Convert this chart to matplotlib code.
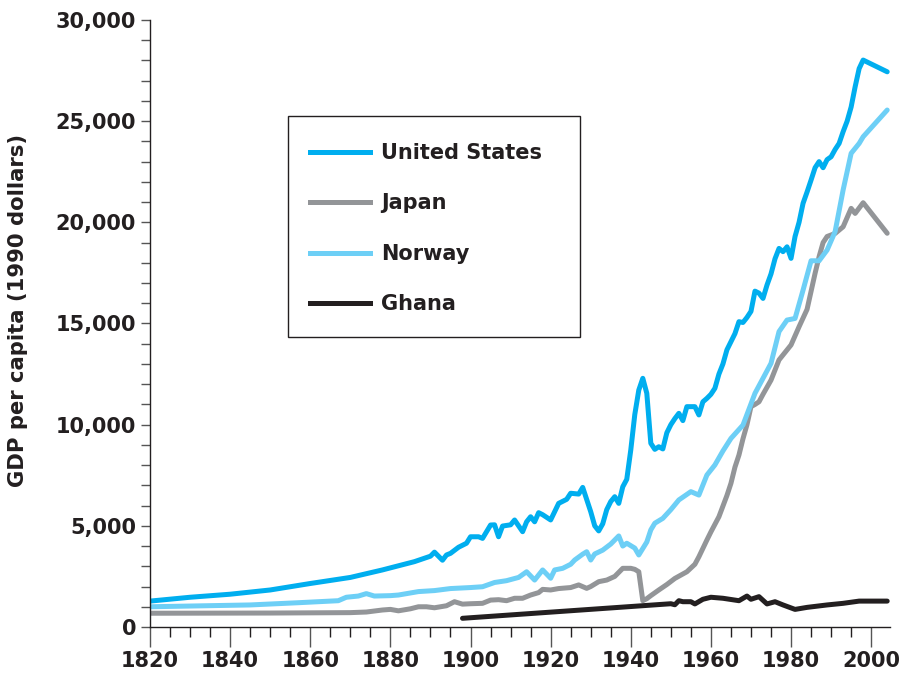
import matplotlib
matplotlib.use("Agg")
import matplotlib.pyplot as plt
from matplotlib.ticker import MultipleLocator, FuncFormatter
from matplotlib.lines import Line2D
from matplotlib.patches import Rectangle

# ---------------- data ----------------
us_years = [1820, 1830, 1840, 1850, 1860, 1870, 1878, 1886, 1890, 1891, 1893, 1894,
            1895, 1897, 1899, 1900, 1902, 1903, 1905, 1906, 1907, 1908, 1910, 1911,
            1913, 1914, 1915, 1916, 1917, 1918, 1920, 1922, 1924, 1925, 1927, 1928,
            1929, 1930, 1931, 1932, 1933, 1934, 1935, 1936, 1937, 1938, 1939, 1940,
            1941, 1942, 1943, 1944, 1945, 1946, 1947, 1948, 1949, 1950, 1951, 1952,
            1953, 1954, 1955, 1956, 1957, 1958, 1959, 1960, 1961, 1962, 1963, 1964,
            1965, 1966, 1967, 1968, 1969, 1970, 1971, 1972, 1973, 1974, 1975, 1976,
            1977, 1978, 1979, 1980, 1981, 1982, 1983, 1984, 1985, 1986, 1987, 1988,
            1989, 1990, 1991, 1992, 1993, 1994, 1995, 1996, 1997, 1998, 2004]
us_gdp = [1280, 1470, 1620, 1830, 2150, 2450, 2820, 3230, 3500, 3700, 3300, 3560,
          3640, 3940, 4140, 4460, 4460, 4380, 5040, 5050, 4460, 4990, 5050, 5290,
          4710, 5200, 5450, 5200, 5650, 5550, 5290, 6110, 6310, 6610, 6570, 6900,
          6300, 5700, 5000, 4750, 5100, 5800, 6200, 6440, 6110, 6930, 7300, 8750,
          10500, 11710, 12290, 11550, 9080, 8780, 8910, 8800, 9600, 10000, 10300, 10560,
          10200, 10890, 10890, 10890, 10480, 11130, 11300, 11500, 11800, 12500, 13000, 13700,
          14100, 14500, 15090, 15050, 15300, 15600, 16600, 16500, 16240, 16900, 17450, 18200,
          18710, 18550, 18790, 18220, 19300, 20000, 20940, 21500, 22090, 22700, 23000, 22700,
          23100, 23240, 23600, 23900, 24480, 25000, 25700, 26700, 27600, 28020, 27440]

japan_years = [1820, 1850, 1870, 1874, 1878, 1880, 1882, 1885, 1887, 1889, 1891, 1894,
               1896, 1898, 1900, 1903, 1905, 1907, 1909, 1911, 1913, 1915, 1917, 1918,
               1920, 1922, 1925, 1927, 1929, 1930, 1932, 1934, 1936, 1938, 1940, 1941,
               1942, 1943, 1944, 1945, 1947, 1949, 1951, 1954, 1956, 1957, 1959, 1960,
               1962, 1964, 1965, 1966, 1967, 1968, 1969, 1970, 1971, 1972, 1973, 1975,
               1977, 1980, 1982, 1984, 1986, 1987, 1988, 1989, 1991, 1993, 1995, 1996,
               1998, 2004]
japan_gdp = [680, 690, 710, 740, 840, 870, 800, 900, 1000, 1000, 950, 1050,
             1250, 1130, 1150, 1170, 1330, 1350, 1300, 1420, 1420, 1580, 1700, 1860,
             1830, 1900, 1950, 2080, 1910, 2000, 2240, 2320, 2500, 2900, 2900, 2850,
             2730, 1300, 1400, 1550, 1830, 2100, 2400, 2730, 3100, 3470, 4300, 4700,
             5450, 6500, 7100, 7900, 8500, 9300, 10000, 10890, 11000, 11130, 11500, 12200,
             13200, 13940, 14840, 15700, 17480, 18300, 19000, 19300, 19450, 19780, 20690, 20440,
             20970, 19460]

norway_years = [1820, 1845, 1857, 1867, 1869, 1872, 1874, 1876, 1880, 1882, 1887, 1891,
                1895, 1900, 1903, 1906, 1909, 1912, 1914, 1916, 1918, 1920, 1921, 1923,
                1925, 1926, 1928, 1929, 1930, 1931, 1933, 1935, 1937, 1938, 1939, 1941,
                1942, 1944, 1945, 1946, 1948, 1950, 1952, 1955, 1957, 1959, 1961, 1963,
                1965, 1968, 1971, 1975, 1977, 1979, 1981, 1983, 1985, 1987, 1989, 1991,
                1993, 1995, 1997, 1998, 2004]
norway_gdp = [1000, 1090, 1200, 1300, 1470, 1530, 1650, 1530, 1550, 1580, 1750, 1800,
              1900, 1950, 1990, 2200, 2290, 2450, 2730, 2320, 2820, 2410, 2820, 2900,
              3100, 3310, 3600, 3720, 3310, 3610, 3800, 4100, 4500, 4000, 4140, 3900,
              3560, 4200, 4800, 5130, 5370, 5800, 6280, 6690, 6520, 7510, 8010, 8700,
              9320, 9980, 11550, 13030, 14600, 15170, 15250, 16650, 18100, 18100, 18630, 19540,
              21600, 23410, 23900, 24230, 25550]

ghana_years = [1898, 1950, 1951, 1952, 1953, 1955, 1956, 1958, 1960, 1963, 1967, 1969,
               1970, 1972, 1974, 1976, 1978, 1981, 1984, 1989, 1993, 1997, 2004]
ghana_gdp = [430, 1150, 1100, 1300, 1250, 1250, 1140, 1370, 1470, 1420, 1300, 1530,
             1370, 1500, 1140, 1250, 1090, 870, 970, 1090, 1170, 1280, 1280]

series_names = ["United States", "Japan", "Norway", "Ghana"]
series_colors = ["#00AEEF", "#939598", "#6DCFF6", "#231F20"]

# ---------------- figure ----------------
plt.rcParams["font.family"] = ["DejaVu Sans"]
plt.rcParams["font.weight"] = "bold"

fig = plt.figure(figsize=(9.01, 6.78), dpi=100)
ax = fig.add_axes([150 / 901, 51 / 678, 740 / 901, 607 / 678])

lw = 3.6
ax.plot(japan_years, japan_gdp, color=series_colors[1], lw=lw, solid_capstyle="round", solid_joinstyle="round")
ax.plot(norway_years, norway_gdp, color=series_colors[2], lw=lw, solid_capstyle="round", solid_joinstyle="round")
ax.plot(us_years, us_gdp, color=series_colors[0], lw=lw, solid_capstyle="round", solid_joinstyle="round")
ax.plot(ghana_years, ghana_gdp, color=series_colors[3], lw=lw, solid_capstyle="round", solid_joinstyle="round")

ax.set_xlim(1820, 2004.7)
ax.set_ylim(0, 30000)

for s in ["top", "right"]:
    ax.spines[s].set_visible(False)
for s in ["left", "bottom"]:
    ax.spines[s].set_linewidth(1.0)
    ax.spines[s].set_color("#231F20")

ax.xaxis.set_major_locator(MultipleLocator(20))
ax.xaxis.set_minor_locator(MultipleLocator(5))
ax.yaxis.set_major_locator(MultipleLocator(5000))
ax.yaxis.set_minor_locator(MultipleLocator(1000))
ax.yaxis.set_major_formatter(FuncFormatter(lambda v, p: f"{int(v):,}"))

ax.tick_params(axis="x", which="major", direction="out", length=14.5, width=1.0,
               color="#555555", pad=3, labelsize=15, labelcolor="#231F20")
ax.tick_params(axis="x", which="minor", direction="out", length=7, width=1.0, color="#231F20")
ax.tick_params(axis="y", which="major", direction="out", length=6.5, width=1.0,
               color="#555555", pad=3.5, labelsize=15, labelcolor="#231F20")
ax.tick_params(axis="y", which="minor", direction="out", length=6.5, width=1.0, color="#555555")
for lab in ax.get_xticklabels() + ax.get_yticklabels():
    lab.set_fontweight("bold")

fig.text(18 / 901, 1 - 310 / 678, "GDP per capita (1990 dollars)", rotation=90,
         ha="center", va="center", fontsize=15.2, fontweight="bold", color="#231F20")

# legend
handles = [Line2D([0], [0], color=c, lw=lw) for c in series_colors]
leg = fig.legend(handles, series_names, loc="upper left",
                 bbox_to_anchor=(310 / 901, 1 - 143 / 678), frameon=False,
                 borderpad=0, borderaxespad=0, handlelength=2.9, handletextpad=0.5,
                 labelspacing=1.46, prop={"size": 15, "weight": "bold"})
for t in leg.get_texts():
    t.set_color("#231F20")
fig.patches.append(Rectangle((288 / 901, 1 - 337 / 678), 292 / 901, 221 / 678,
                             transform=fig.transFigure, fill=False,
                             edgecolor="#231F20", lw=1.0))

fig.savefig("out.png", dpi=100)
